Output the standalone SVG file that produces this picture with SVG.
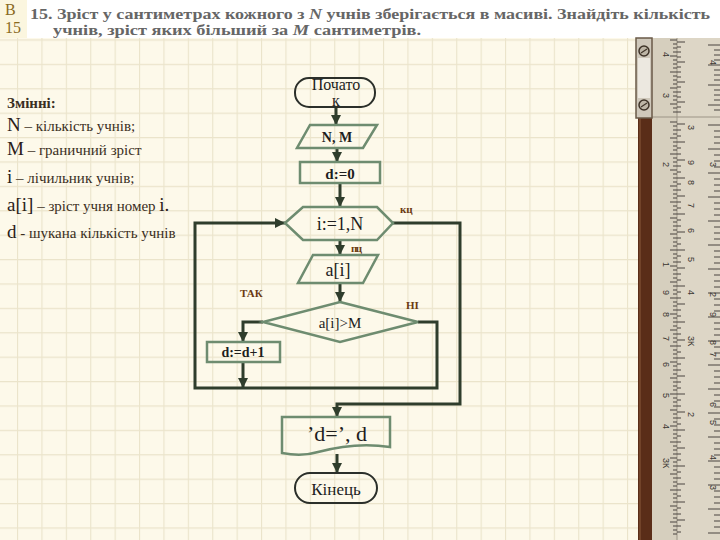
<svg xmlns="http://www.w3.org/2000/svg" width="720" height="540" viewBox="0 0 720 540">
<defs>
<pattern id="grid" x="17" y="15" width="24.4" height="24.4" patternUnits="userSpaceOnUse">
<rect width="24.4" height="24.4" fill="#fdf9ea"/>
<path d="M0,0 H24.4 M0,0 V24.4" stroke="#ebe4cb" stroke-width="2.2" fill="none"/>
</pattern>
<marker id="arr" viewBox="0 0 10 10" refX="10" refY="5" markerWidth="10" markerHeight="10" markerUnits="userSpaceOnUse" orient="auto">
<path d="M0,0 L10,5 L0,10 z" fill="#2f3d2c"/>
</marker>
<style>
.conn{fill:none;stroke:#2f3d2c;stroke-width:3}
.shp{fill:none;stroke:#6e8c70;stroke-width:2.5}
.term{fill:none;stroke:#2b2f2a;stroke-width:2}
.ft{font-family:"Liberation Serif","DejaVu Serif",serif;fill:#1e1e1e;text-anchor:middle}
.lbl{font-family:"Liberation Serif","DejaVu Serif",serif;font-weight:bold;fill:#6b3a12;font-size:11px}
.var{font-family:"Liberation Serif","DejaVu Serif",serif;fill:#3a2e22;font-size:15px}
.big{font-size:19px;fill:#2a2018}
.hdr{font-family:"Liberation Serif","DejaVu Serif",serif;font-weight:bold;fill:#666666;font-size:14px}
.rn{font-family:"Liberation Sans",sans-serif;font-size:9px;fill:#3a3530}
.tick{stroke:#4a4540;stroke-width:1}
</style>
</defs>
<rect width="720" height="540" fill="url(#grid)"/>
<!-- header -->
<rect x="0" y="0" width="720" height="38" fill="#ffffff"/>
<rect x="0" y="0" width="27" height="38" fill="#fbf6df"/>
<text x="5" y="15" style="font-family:'Liberation Serif',serif;font-size:16px;fill:#8a6a1e">В</text>
<text x="5" y="33" style="font-family:'Liberation Serif',serif;font-size:16px;fill:#8a6a1e">15</text>
<text class="hdr" x="30" y="19" textLength="680" lengthAdjust="spacingAndGlyphs">15. Зріст у сантиметрах кожного з <tspan font-style="italic">N</tspan> учнів зберігається в масиві. Знайдіть кількість</text>
<text class="hdr" x="53" y="35" textLength="368" lengthAdjust="spacingAndGlyphs">учнів, зріст яких більший за <tspan font-style="italic">M</tspan> сантиметрів.</text>
<!-- ruler -->
<g id="ruler">
<rect x="652" y="38" width="68" height="502" fill="#ddd6c6"/>
<rect x="652" y="38" width="25" height="502" fill="#d6cfbe"/>
<line x1="677" y1="38" x2="677" y2="540" stroke="#9c9486" stroke-width="1"/>
<line x1="652" y1="117" x2="720" y2="117" stroke="#9c9486" stroke-width="1"/>
<rect x="638" y="118" width="14" height="422" fill="#5a2d18"/>
<line x1="640" y1="118" x2="640" y2="540" stroke="#8a5a3a" stroke-width="1"/>
<rect x="636" y="38" width="16" height="80" fill="#cfc8bb" stroke="#6a5a48" stroke-width="1.5"/>
<rect x="638" y="58" width="12" height="40" fill="#ece8e0"/>
<circle cx="644" cy="51" r="5" fill="#bdb5a6" stroke="#3e3328" stroke-width="1.5"/>
<line x1="641" y1="53" x2="647" y2="49" stroke="#3e3328" stroke-width="1.2"/>
<circle cx="644" cy="105" r="5" fill="#bdb5a6" stroke="#3e3328" stroke-width="1.5"/>
<line x1="641" y1="107" x2="647" y2="103" stroke="#3e3328" stroke-width="1.2"/>
<path class="tick" d="M670,40h7M673,44h4M673,48h4M673,52h4M670,56h7M673,60h4M673,64h4M673,68h4M670,72h7M673,76h4M673,80h4M673,84h4M670,88h7M673,92h4M673,96h4M673,100h4M670,104h7M673,108h4M673,112h4M670,122h7M673,126h4M673,130h4M673,134h4M670,138h7M673,142h4M673,146h4M673,150h4M670,154h7M673,158h4M673,162h4M673,166h4M670,170h7M673,174h4M673,178h4M673,182h4M670,186h7M673,190h4M673,194h4M673,198h4M670,202h7M673,206h4M673,210h4M673,214h4M670,218h7M673,222h4M673,226h4M673,230h4M670,234h7M673,238h4M673,242h4M673,246h4M670,250h7M673,254h4M673,258h4M673,262h4M670,266h7M673,270h4M673,274h4M673,278h4M670,282h7M673,286h4M673,290h4M673,294h4M670,298h7M673,302h4M673,306h4M673,310h4M670,314h7M673,318h4M673,322h4M673,326h4M670,330h7M673,334h4M673,338h4M673,342h4M670,346h7M673,350h4M673,354h4M673,358h4M670,362h7M673,366h4M673,370h4M673,374h4M670,378h7M673,382h4M673,386h4M673,390h4M670,394h7M673,398h4M673,402h4M673,406h4M670,410h7M673,414h4M673,418h4M673,422h4M670,426h7M673,430h4M673,434h4M673,438h4M670,442h7M673,446h4M673,450h4M673,454h4M670,458h7M673,462h4M673,466h4M673,470h4M670,474h7M673,478h4M673,482h4M673,486h4M670,490h7M673,494h4M673,498h4M673,502h4M670,506h7M673,510h4M673,514h4M673,518h4M670,522h7M673,526h4M673,530h4M673,534h4"/>
<path class="tick" d="M677,42h8M677,47h4M677,52h4M677,57h4M677,62h8M677,67h4M677,72h4M677,77h4M677,82h8M677,87h4M677,92h4M677,97h4M677,102h8M677,107h4M677,112h4M677,124h8M677,130h4M677,136h4M677,142h8M677,148h4M677,154h4M677,160h8M677,166h4M677,172h4M677,178h8M677,184h4M677,190h4M677,196h8M677,202h4M677,208h4M677,214h8M677,220h4M677,226h4M677,232h8M677,238h4M677,244h4M677,250h8M677,256h4M677,262h4M677,268h8M677,274h4M677,280h4M677,286h8M677,292h4M677,298h4M677,304h8M677,310h4M677,316h4M677,322h8M677,328h4M677,334h4M677,340h8M677,346h4M677,352h4M677,358h8M677,364h4M677,370h4M677,376h8M677,382h4M677,388h4M677,394h8M677,400h4M677,406h4M677,412h8M677,418h4M677,424h4M677,430h8M677,436h4M677,442h4M677,448h8M677,454h4M677,460h4M677,466h8M677,472h4M677,478h4M677,484h8M677,490h4M677,496h4M677,502h8M677,508h4M677,514h4M677,520h8M677,526h4M677,532h4"/>
<path class="tick" d="M708,45h12M714,50h6M714,55h6M714,60h6M708,65h12M714,70h6M714,75h6M714,80h6M708,85h12M714,90h6M714,95h6M714,100h6M708,105h12M714,110h6M708,125h12M714,131h6M714,137h6M714,143h6M708,149h12M714,155h6M714,161h6M714,167h6M708,173h12M714,179h6M714,185h6M714,191h6M708,197h12M714,203h6M714,209h6M714,215h6M708,221h12M714,227h6M714,233h6M714,239h6M708,245h12M714,251h6M714,257h6M714,263h6M708,269h12M714,275h6M714,281h6M714,287h6M708,293h12M714,299h6M714,305h6M714,311h6M708,317h12M714,323h6M714,329h6M714,335h6M708,341h12M714,347h6M714,353h6M714,359h6M708,365h12M714,371h6M714,377h6M714,383h6M708,389h12M714,395h6M714,401h6M714,407h6M708,413h12M714,419h6M714,425h6M714,431h6M708,437h12M714,443h6M714,449h6M714,455h6M708,461h12M714,467h6M714,473h6M714,479h6M708,485h12M714,491h6M714,497h6M714,503h6M708,509h12M714,515h6M714,521h6M714,527h6M708,533h12"/>
<text class="rn" transform="translate(663,52) rotate(90)">4</text>
<text class="rn" transform="translate(663,93) rotate(90)">3</text>
<text class="rn" transform="translate(663,162) rotate(90)">2</text>
<text class="rn" transform="translate(663,262) rotate(90)">1</text>
<text class="rn" transform="translate(663,290) rotate(90)">9</text>
<text class="rn" transform="translate(663,312) rotate(90)">8</text>
<text class="rn" transform="translate(663,336) rotate(90)">7</text>
<text class="rn" transform="translate(663,362) rotate(90)">6</text>
<text class="rn" transform="translate(663,393) rotate(90)">5</text>
<text class="rn" transform="translate(663,424) rotate(90)">4</text>
<text class="rn" transform="translate(663,458) rotate(90)">3К</text>
<text class="rn" transform="translate(688,125) rotate(90)">3</text>
<text class="rn" transform="translate(688,160) rotate(90)">9</text>
<text class="rn" transform="translate(688,180) rotate(90)">8</text>
<text class="rn" transform="translate(688,203) rotate(90)">7</text>
<text class="rn" transform="translate(688,228) rotate(90)">6</text>
<text class="rn" transform="translate(688,257) rotate(90)">5</text>
<text class="rn" transform="translate(688,290) rotate(90)">4</text>
<text class="rn" transform="translate(688,336) rotate(90)">3К</text>
<text class="rn" transform="translate(688,412) rotate(90)">2</text>
<text class="rn" transform="translate(710,60) rotate(90)">4</text>
<text class="rn" transform="translate(710,162) rotate(90)">3</text>
<text class="rn" transform="translate(710,292) rotate(90)">2</text>
<text class="rn" transform="translate(710,312) rotate(90)">9</text>
<text class="rn" transform="translate(710,340) rotate(90)">8</text>
<text class="rn" transform="translate(710,352) rotate(90)">7</text>
<text class="rn" transform="translate(710,402) rotate(90)">6</text>
<text class="rn" transform="translate(710,420) rotate(90)">5</text>
<text class="rn" transform="translate(710,455) rotate(90)">4</text>
<text class="rn" transform="translate(710,485) rotate(90)">3</text>
</g>
<!-- variables -->
<g id="vars" font-family="Liberation Serif, DejaVu Serif, serif">
<text class="var" x="7" y="108" font-weight="bold">Змінні:</text>
<text class="var" x="7" y="131"><tspan class="big">N</tspan> – кількість учнів;</text>
<text class="var" x="7" y="155"><tspan class="big">M</tspan> – граничний зріст</text>
<text class="var" x="7" y="183"><tspan class="big">i</tspan> – лічильник учнів;</text>
<text class="var" x="7" y="211"><tspan class="big">a[i]</tspan> – зріст учня номер <tspan class="big">i.</tspan></text>
<text class="var" x="7" y="238"><tspan class="big">d</tspan> - шукана кількість учнів</text>
</g>
<!-- connectors -->
<g id="connectors">
<path class="conn" d="M336,107 L336,125" marker-end="url(#arr)"/>
<path class="conn" d="M337,148 L337,162" marker-end="url(#arr)"/>
<path class="conn" d="M340,183 L340,207" marker-end="url(#arr)"/>
<path class="conn" d="M340,240 L340,255" marker-end="url(#arr)"/>
<path class="conn" d="M340,283 L340,302" marker-end="url(#arr)"/>
<path class="conn" d="M263,322 L243,322 L243,342" marker-end="url(#arr)"/>
<path class="conn" d="M243,362 L243,388" marker-end="url(#arr)"/>
<path class="conn" d="M418,322 L437,322 L437,388 L195,388 L195,223 L285,223" marker-end="url(#arr)"/>
<path class="conn" d="M393,223 L460,223 L460,404 L337,404 L337,417" marker-end="url(#arr)"/>
<path class="conn" d="M337,454 L337,473" marker-end="url(#arr)"/>
<text class="lbl" x="400" y="213" font-size="12">кц</text>
<text class="lbl" x="351" y="252" font-size="12" letter-spacing="-1.5">пц</text>
<text class="lbl" x="240" y="297">ТАК</text>
<text class="lbl" x="406" y="309">НІ</text>
</g>
<g id="start">
<rect class="term" x="295" y="78" width="80" height="29" rx="14"/>
<text class="ft" x="336" y="90" font-size="16">Почато</text>
<text class="ft" x="336" y="106" font-size="16">к</text>
</g>
<g id="input1">
<polygon class="shp" points="310,125 377,125 363,148 297,148"/>
<text class="ft" x="337" y="142" font-size="14" font-weight="bold">N, M</text>
</g>
<g id="init">
<rect class="shp" x="300" y="162" width="80" height="21"/>
<text class="ft" x="340" y="179" font-size="15" font-weight="bold">d:=0</text>
</g>
<g id="loop">
<polygon class="shp" points="285,223 303,207 377,207 393,223 377,240 303,240"/>
<text class="ft" x="340" y="230" font-size="18">i:=1,N</text>
</g>
<g id="input2">
<polygon class="shp" points="313,255 378,255 363,283 298,283"/>
<text class="ft" x="338" y="276" font-size="18">a[i]</text>
</g>
<g id="cond">
<polygon class="shp" points="340,302 418,322 340,342 263,322"/>
<text class="ft" x="340" y="328" font-size="15">a[i]&gt;M</text>
</g>
<g id="inc">
<rect class="shp" x="207" y="342" width="73" height="20"/>
<text class="ft" x="243" y="357" font-size="14" font-weight="bold">d:=d+1</text>
</g>
<g id="output">
<path class="shp" d="M282,417 L390,417 L390,447 C365,443 340,446 318,452 C305,456 292,455 282,453 Z"/>
<text class="ft" x="337" y="441" font-size="22">’d=’, d</text>
</g>
<g id="end">
<rect class="term" x="295" y="473" width="82" height="30" rx="15"/>
<text class="ft" x="336" y="495" font-size="17">Кінець</text>
</g>
</svg>
